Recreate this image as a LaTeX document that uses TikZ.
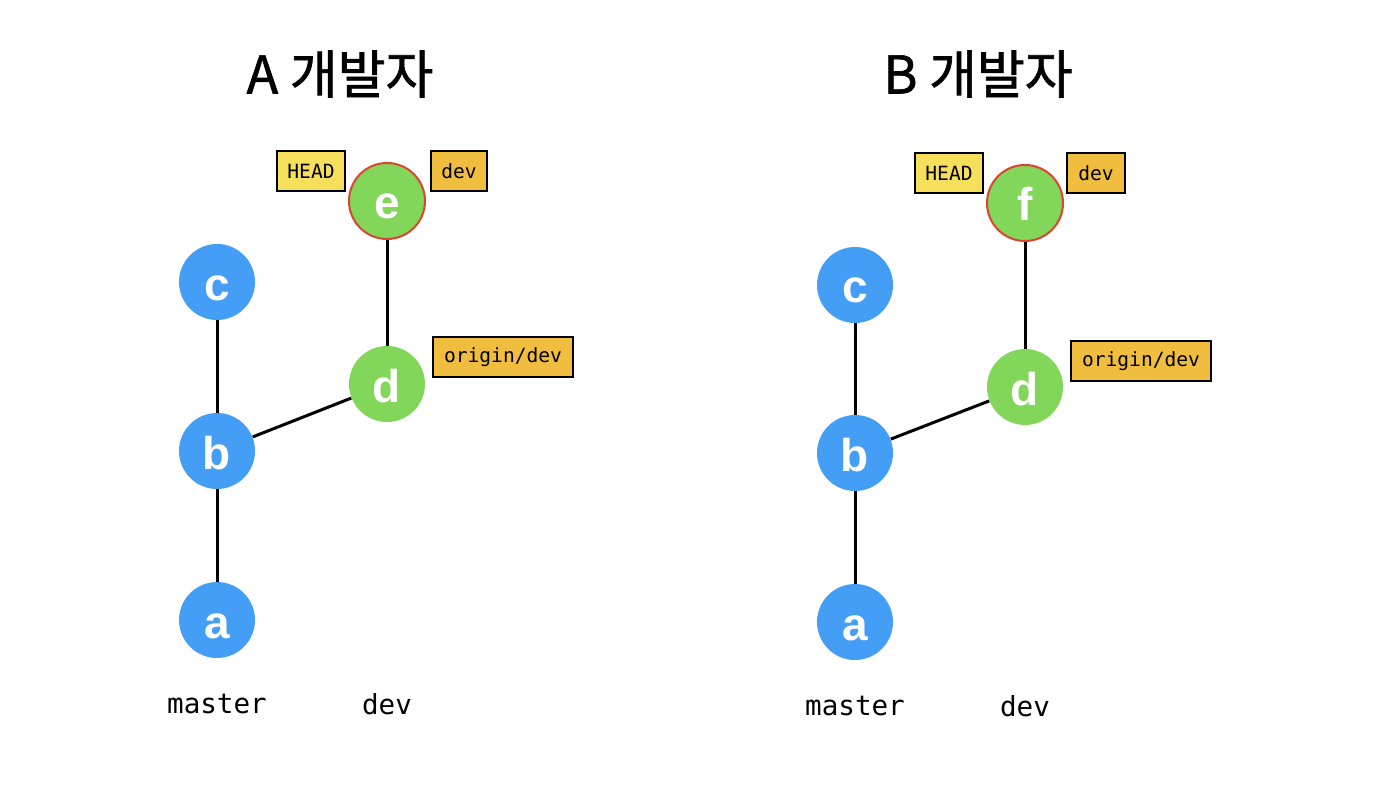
\documentclass[tikz,border=0pt]{standalone}
\usepackage{fontspec}
\setmainfont{Liberation Sans}
\newfontfamily\titlefont[FakeBold=1.2]{Noto Sans CJK KR}
\newfontfamily\codefont{DejaVu Sans Mono}
\definecolor{commitblue}{HTML}{459EF5}
\definecolor{commitgreen}{HTML}{82D65A}
\definecolor{headred}{HTML}{D9452E}
\definecolor{headyellow}{HTML}{F6E05B}
\definecolor{branchorange}{HTML}{F0BD3E}
\tikzset{
  commit/.style={circle, minimum size=38pt, inner sep=0pt, text=white,
    text height=18pt, text depth=0pt,
    font=\fontsize{23}{23}\selectfont\bfseries},
  master commit/.style={commit, fill=commitblue},
  dev commit/.style={commit, fill=commitgreen},
  head commit/.style={commit, fill=commitgreen, draw=headred, line width=1pt},
  reftag/.style={draw=black, line width=1pt, minimum height=20pt, inner sep=0pt,
    font=\codefont\fontsize{9.8}{10}\selectfont},
  headtag/.style={reftag, fill=headyellow, minimum width=34pt},
  branchtag/.style={reftag, fill=branchorange},
  lane/.style={font=\codefont\fontsize{13.8}{14}\selectfont},
  paneltitle/.style={font=\titlefont\fontsize{26}{28}\selectfont},
  history/.style={line width=1.5pt, black},
}
\begin{document}
\begin{tikzpicture}[x=0.5pt, y=-0.5pt]
  \useasboundingbox (0,0) rectangle (1390,796);
  % developer A
  \node[paneltitle] (titleA) at (340,74) {A 개발자};
  \node[master commit] (Aa) at (217,620) {a};
  \node[master commit] (Ab) at (217,451) {b};
  \node[master commit] (Ac) at (217,282) {c};
  \node[dev commit] (Ad) at (387,384) {d};
  \node[head commit] (Ae) at (387,201) {e};
  \draw[history] (Aa) -- (Ab);
  \draw[history] (Ab) -- (Ac);
  \draw[history] (Ab) -- (Ad);
  \draw[history] (Ad) -- (Ae);
  \node[headtag] (Ahead) at (311,171) {HEAD};
  \node[branchtag, minimum width=28pt] (Adev) at (459,171) {dev};
  \node[branchtag, minimum width=70pt] (Aorigin) at (503,357) {origin/dev};
  \node[lane] (Amaster) at (217,704) {master};
  \node[lane] (Adevlane) at (387,704) {dev};
  % developer B
  \node[paneltitle] (titleB) at (978,74) {B 개발자};
  \node[master commit] (Ba) at (855,622) {a};
  \node[master commit] (Bb) at (855,453) {b};
  \node[master commit] (Bc) at (855,285) {c};
  \node[dev commit] (Bd) at (1025,387) {d};
  \node[head commit] (Bf) at (1025,203) {f};
  \draw[history] (Ba) -- (Bb);
  \draw[history] (Bb) -- (Bc);
  \draw[history] (Bb) -- (Bd);
  \draw[history] (Bd) -- (Bf);
  \node[headtag] (Bhead) at (949,173) {HEAD};
  \node[branchtag, minimum width=29pt] (Bdev) at (1096,173) {dev};
  \node[branchtag, minimum width=70pt] (Borigin) at (1141,361) {origin/dev};
  \node[lane] (Bmaster) at (855,706) {master};
  \node[lane] (Bdevlane) at (1025,706) {dev};
\end{tikzpicture}
\end{document}
